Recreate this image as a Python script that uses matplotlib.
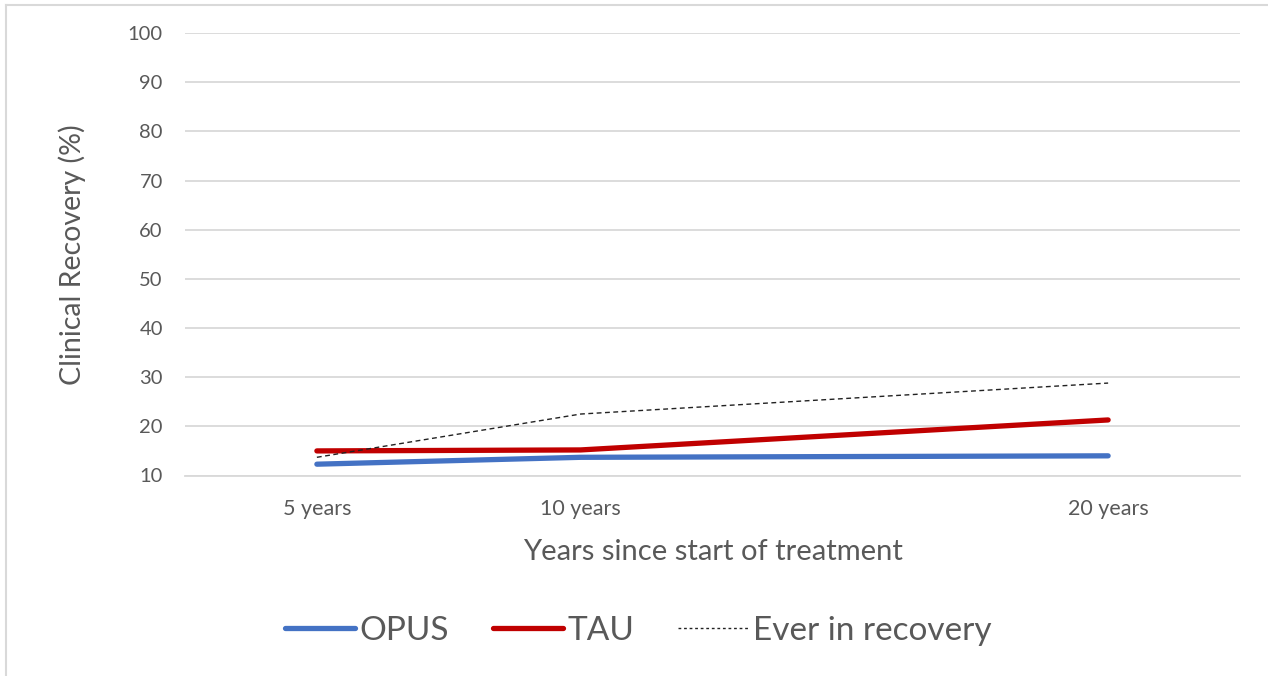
import matplotlib
matplotlib.use("Agg")
import matplotlib.pyplot as plt
from matplotlib.lines import Line2D

# data
years = [5, 10, 20]
year_labels = ["5 years", "10 years", "20 years"]
opus = [12.3, 13.7, 14.0]
tau = [15.0, 15.2, 21.3]
ever = [13.7, 22.5, 28.8]
y_ticks = [10, 20, 30, 40, 50, 60, 70, 80, 90, 100]

plt.rcParams["font.family"] = ["Lato", "DejaVu Sans"]
grey_text = "#595959"

fig = plt.figure(figsize=(12.68, 6.76), dpi=100)
ax = fig.add_axes([185 / 1268, 1 - 475.5 / 676, 1055 / 1268, 442.5 / 676])

ax.plot(years, opus, color="#4472C4", lw=3.8, solid_capstyle="round", label="OPUS")
ax.plot(years, tau, color="#C00000", lw=3.8, solid_capstyle="round", label="TAU")
ax.plot(years, ever, color="#222222", lw=1.0, ls=(0, (3.5, 2.5)), label="Ever in recovery")

ax.set_xlim(2.5, 22.5)
ax.set_ylim(10, 100)
ax.set_yticks(y_ticks)
ax.set_xticks(years)
ax.set_xticklabels(year_labels)
ax.grid(axis="y", color="#D9D9D9", lw=1.3)
ax.set_axisbelow(True)
for s in ["top", "right", "left"]:
    ax.spines[s].set_visible(False)
ax.spines["bottom"].set_color("#D9D9D9")
ax.spines["bottom"].set_linewidth(1.3)
ax.tick_params(axis="y", length=0, labelsize=14.5, colors=grey_text, pad=16)
ax.tick_params(axis="x", length=0, labelsize=15.5, colors=grey_text, pad=17)

ax.set_ylabel("Clinical Recovery (%)", fontsize=20.5, color=grey_text, labelpad=30)
ax.set_xlabel("Years since start of treatment", fontsize=21, color=grey_text, labelpad=14)

handles = [
    Line2D([], [], color="#4472C4", lw=3.8, solid_capstyle="round"),
    Line2D([], [], color="#C00000", lw=3.8, solid_capstyle="round"),
    Line2D([], [], color="#222222", lw=1.0, ls=(0, (2, 2))),
]
fig.legend(handles, ["OPUS", "TAU", "Ever in recovery"], loc="center",
           bbox_to_anchor=(638 / 1268, 1 - 631 / 676), ncol=3, frameon=False,
           fontsize=24, labelcolor=grey_text, handlelength=2.1, handletextpad=0.15,
           columnspacing=1.3)

# chart frame (only top and left edges visible)
fig.add_artist(Line2D([6 / 1268, 6 / 1268], [0, 1 - 5 / 676], color="#D9D9D9", lw=1.5))
fig.add_artist(Line2D([6 / 1268, 1], [1 - 5 / 676, 1 - 5 / 676], color="#D9D9D9", lw=1.5))

fig.savefig("out.png", dpi=100)
